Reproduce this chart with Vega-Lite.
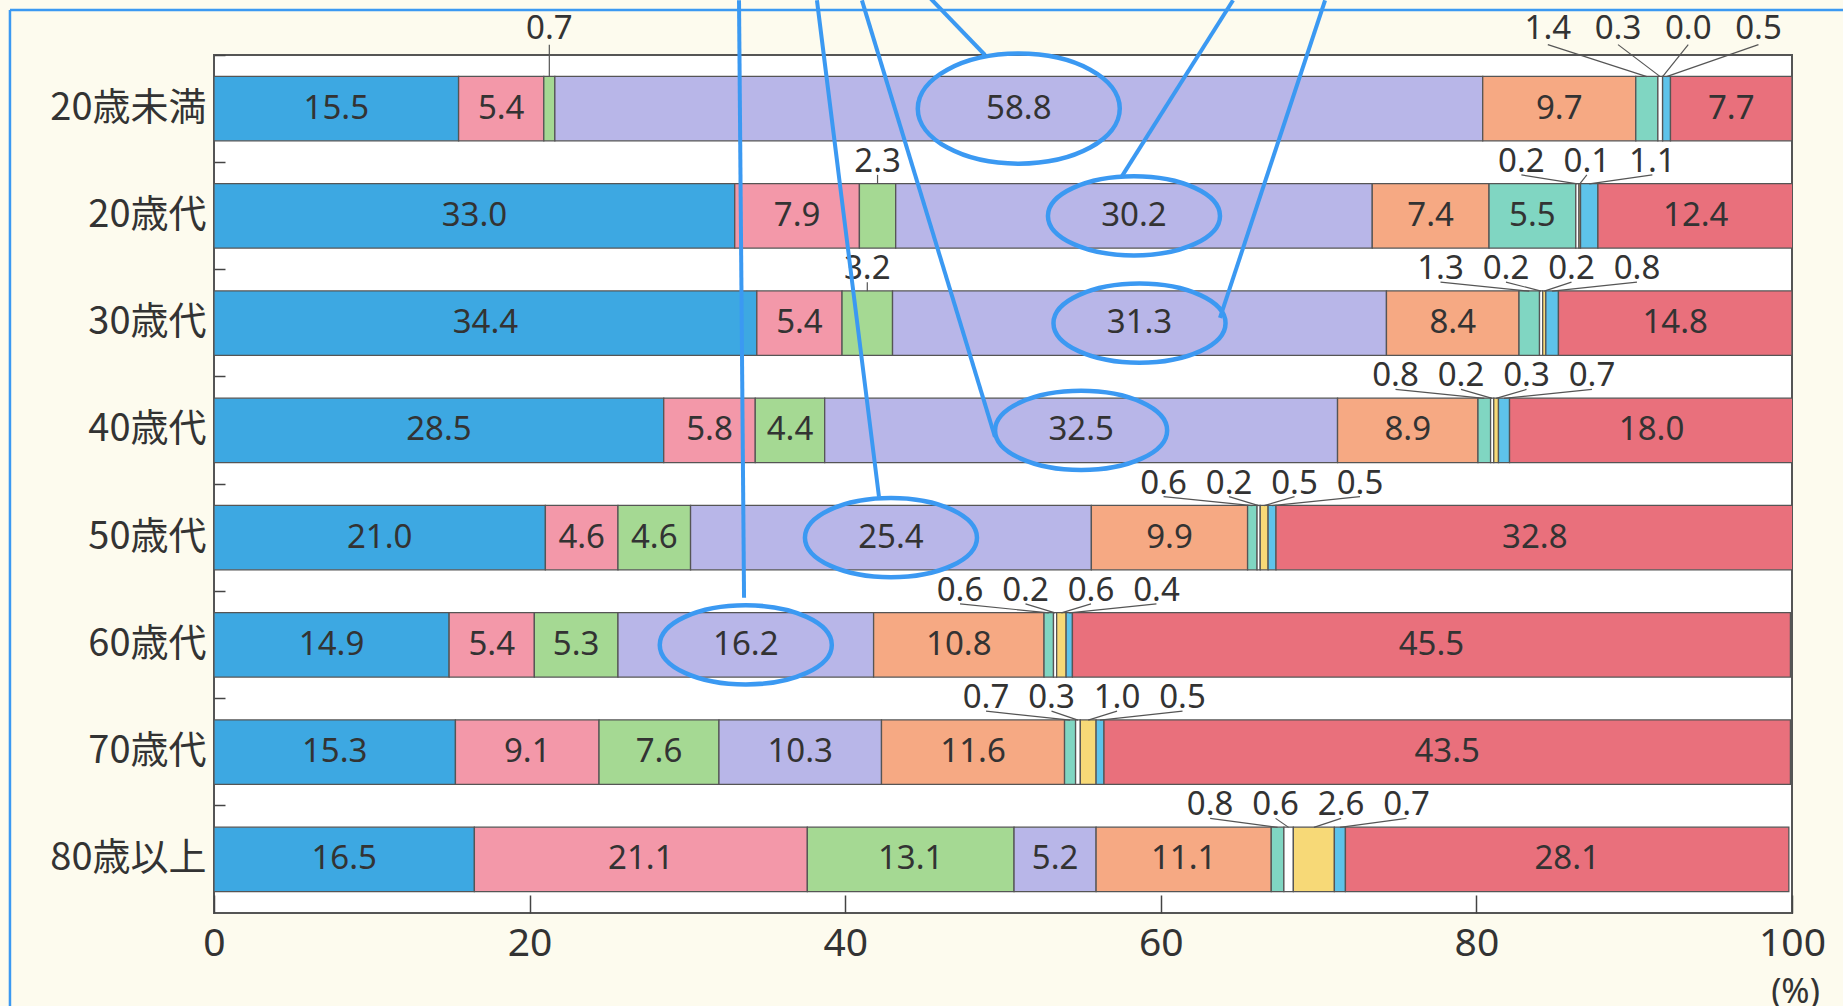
{
  "$schema": "https://vega.github.io/schema/vega-lite/v6.json",
  "width": 1578,
  "height": 858,
  "autosize": {"type": "none"},
  "padding": {"left": 214, "top": 55, "right": 51, "bottom": 93},
  "background": "#fdfbee",
  "config": {
    "view": {"fill": "#ffffff", "stroke": "#555555", "strokeWidth": 2},
    "axisX": {
      "domain": false, "grid": false, "ticks": true, "tickSize": -18, "tickColor": "#444444", "tickWidth": 1.5,
      "labelFlush": false,
      "labelFont": "Noto Sans", "labelFontSize": 39, "labelColor": "#333333", "labelPadding": 48, "labelBaseline": "middle",
      "titleFont": "Noto Sans", "titleFontSize": 34, "titleFontWeight": "normal", "titleColor": "#333333",
      "titleX": 1581, "titleY": 79, "titleAlign": "center", "titleBaseline": "middle", "titleAnchor": "start"
    },
    "axisY": {
      "domain": false, "grid": false, "ticks": true, "tickSize": -11, "tickColor": "#444444", "tickWidth": 1.5,
      "bandPosition": -0.333,
      "labelFont": "Noto Sans CJK JP", "labelFontSize": 38, "labelColor": "#333333", "labelPadding": 19,
      "title": null
    },
    "text": {"font": "Noto Sans", "fontSize": 33, "color": "#333333"}
  },
  "layer": [
    {
      "data": {"values": [
        {"age": "20歳未満", "k": 1, "v": 15.5}, {"age": "20歳未満", "k": 2, "v": 5.4}, {"age": "20歳未満", "k": 3, "v": 0.7}, {"age": "20歳未満", "k": 4, "v": 58.8}, {"age": "20歳未満", "k": 5, "v": 9.7}, {"age": "20歳未満", "k": 6, "v": 1.4}, {"age": "20歳未満", "k": 7, "v": 0.3}, {"age": "20歳未満", "k": 8, "v": 0.0}, {"age": "20歳未満", "k": 9, "v": 0.5}, {"age": "20歳未満", "k": 10, "v": 7.7},
        {"age": "20歳代", "k": 1, "v": 33.0}, {"age": "20歳代", "k": 2, "v": 7.9}, {"age": "20歳代", "k": 3, "v": 2.3}, {"age": "20歳代", "k": 4, "v": 30.2}, {"age": "20歳代", "k": 5, "v": 7.4}, {"age": "20歳代", "k": 6, "v": 5.5}, {"age": "20歳代", "k": 7, "v": 0.2}, {"age": "20歳代", "k": 8, "v": 0.1}, {"age": "20歳代", "k": 9, "v": 1.1}, {"age": "20歳代", "k": 10, "v": 12.4},
        {"age": "30歳代", "k": 1, "v": 34.4}, {"age": "30歳代", "k": 2, "v": 5.4}, {"age": "30歳代", "k": 3, "v": 3.2}, {"age": "30歳代", "k": 4, "v": 31.3}, {"age": "30歳代", "k": 5, "v": 8.4}, {"age": "30歳代", "k": 6, "v": 1.3}, {"age": "30歳代", "k": 7, "v": 0.2}, {"age": "30歳代", "k": 8, "v": 0.2}, {"age": "30歳代", "k": 9, "v": 0.8}, {"age": "30歳代", "k": 10, "v": 14.8},
        {"age": "40歳代", "k": 1, "v": 28.5}, {"age": "40歳代", "k": 2, "v": 5.8}, {"age": "40歳代", "k": 3, "v": 4.4}, {"age": "40歳代", "k": 4, "v": 32.5}, {"age": "40歳代", "k": 5, "v": 8.9}, {"age": "40歳代", "k": 6, "v": 0.8}, {"age": "40歳代", "k": 7, "v": 0.2}, {"age": "40歳代", "k": 8, "v": 0.3}, {"age": "40歳代", "k": 9, "v": 0.7}, {"age": "40歳代", "k": 10, "v": 18.0},
        {"age": "50歳代", "k": 1, "v": 21.0}, {"age": "50歳代", "k": 2, "v": 4.6}, {"age": "50歳代", "k": 3, "v": 4.6}, {"age": "50歳代", "k": 4, "v": 25.4}, {"age": "50歳代", "k": 5, "v": 9.9}, {"age": "50歳代", "k": 6, "v": 0.6}, {"age": "50歳代", "k": 7, "v": 0.2}, {"age": "50歳代", "k": 8, "v": 0.5}, {"age": "50歳代", "k": 9, "v": 0.5}, {"age": "50歳代", "k": 10, "v": 32.8},
        {"age": "60歳代", "k": 1, "v": 14.9}, {"age": "60歳代", "k": 2, "v": 5.4}, {"age": "60歳代", "k": 3, "v": 5.3}, {"age": "60歳代", "k": 4, "v": 16.2}, {"age": "60歳代", "k": 5, "v": 10.8}, {"age": "60歳代", "k": 6, "v": 0.6}, {"age": "60歳代", "k": 7, "v": 0.2}, {"age": "60歳代", "k": 8, "v": 0.6}, {"age": "60歳代", "k": 9, "v": 0.4}, {"age": "60歳代", "k": 10, "v": 45.5},
        {"age": "70歳代", "k": 1, "v": 15.3}, {"age": "70歳代", "k": 2, "v": 9.1}, {"age": "70歳代", "k": 3, "v": 7.6}, {"age": "70歳代", "k": 4, "v": 10.3}, {"age": "70歳代", "k": 5, "v": 11.6}, {"age": "70歳代", "k": 6, "v": 0.7}, {"age": "70歳代", "k": 7, "v": 0.3}, {"age": "70歳代", "k": 8, "v": 1.0}, {"age": "70歳代", "k": 9, "v": 0.5}, {"age": "70歳代", "k": 10, "v": 43.5},
        {"age": "80歳以上", "k": 1, "v": 16.5}, {"age": "80歳以上", "k": 2, "v": 21.1}, {"age": "80歳以上", "k": 3, "v": 13.1}, {"age": "80歳以上", "k": 4, "v": 5.2}, {"age": "80歳以上", "k": 5, "v": 11.1}, {"age": "80歳以上", "k": 6, "v": 0.8}, {"age": "80歳以上", "k": 7, "v": 0.6}, {"age": "80歳以上", "k": 8, "v": 2.6}, {"age": "80歳以上", "k": 9, "v": 0.7}, {"age": "80歳以上", "k": 10, "v": 28.1}
      ]},
      "transform": [
        {"stack": "v", "groupby": ["age"], "sort": [{"field": "k", "order": "ascending"}], "as": ["x0", "x1"]},
        {"calculate": "(datum.x0 + datum.x1) / 2", "as": "mid"}
      ],
      "encoding": {
        "y": {
          "field": "age", "type": "nominal",
          "sort": ["20歳未満", "20歳代", "30歳代", "40歳代", "50歳代", "60歳代", "70歳代", "80歳以上"],
          "scale": {"paddingInner": 0.4, "paddingOuter": 0.2},
          "title": null
        }
      },
      "layer": [
        {
          "mark": {"type": "bar", "stroke": "#555555", "strokeWidth": 1.3, "clip": true},
          "encoding": {
            "x": {"field": "x0", "type": "quantitative", "scale": {"domain": [0, 100], "nice": false, "zero": false},
              "axis": {"title": "(%)", "values": [0, 20, 40, 60, 80, 100]}},
            "x2": {"field": "x1"},
            "color": {
              "field": "k", "type": "ordinal", "legend": null,
              "scale": {"domain": [1, 2, 3, 4, 5, 6, 7, 8, 9, 10],
                "range": ["#3da8e2", "#f398a9", "#a5d993", "#b8b6e8", "#f6a983", "#80d6c2", "#ffffff", "#f7d977", "#5ec3ea", "#e9707c"]}
            }
          }
        },
        {
          "transform": [{"filter": "datum.v >= 3.5"}],
          "mark": {"type": "text", "baseline": "middle", "align": "center"},
          "encoding": {
            "x": {"field": "mid", "type": "quantitative", "axis": {"title": "(%)", "values": [0, 20, 40, 60, 80, 100]}},
            "text": {"field": "v", "type": "quantitative", "format": ".1f"}
          }
        },
        {
          "transform": [
            {"filter": "datum.v < 3.5 && (datum.k == 3 || (datum.k >= 6 && datum.k <= 9))"},
            {"calculate": "datum.k == 3 ? 'g' : 'o'", "as": "grp"},
            {"joinaggregate": [{"op": "min", "field": "x0", "as": "g0"}, {"op": "max", "field": "x1", "as": "g1"}, {"op": "count", "as": "n"}], "groupby": ["age", "grp"]},
            {"window": [{"op": "row_number", "as": "r"}], "groupby": ["age", "grp"], "sort": [{"field": "k", "order": "ascending"}]},
            {"calculate": "(datum.g0 + datum.g1) / 2 + (datum.r - (datum.n + 1) / 2) * (datum.age == '20歳未満' ? 4.45 : 4.15)", "as": "lx"}
          ],
          "layer": [
            {
              "transform": [{"filter": "datum.age != '20歳未満'"}],
              "layer": [
                {
                  "mark": {"type": "text", "baseline": "middle", "align": "center", "yOffset": -54},
                  "encoding": {
                    "x": {"field": "lx", "type": "quantitative", "axis": {"title": "(%)", "values": [0, 20, 40, 60, 80, 100]}},
                    "text": {"field": "v", "type": "quantitative", "format": ".1f"}
                  }
                },
                {
                  "mark": {"type": "rule", "stroke": "#555555", "strokeWidth": 1.2, "yOffset": -41, "y2Offset": -32},
                  "encoding": {
                    "x": {"field": "lx", "type": "quantitative", "axis": {"title": "(%)", "values": [0, 20, 40, 60, 80, 100]}},
                    "x2": {"field": "mid"},
                    "y2": {"field": "age"}
                  }
                }
              ]
            },
            {
              "transform": [{"filter": "datum.age == '20歳未満'"}],
              "layer": [
                {
                  "mark": {"type": "text", "baseline": "middle", "align": "center", "yOffset": -80},
                  "encoding": {
                    "x": {"field": "lx", "type": "quantitative", "axis": {"title": "(%)", "values": [0, 20, 40, 60, 80, 100]}},
                    "text": {"field": "v", "type": "quantitative", "format": ".1f"}
                  }
                },
                {
                  "mark": {"type": "rule", "stroke": "#555555", "strokeWidth": 1.2, "yOffset": -64, "y2Offset": -32},
                  "encoding": {
                    "x": {"field": "lx", "type": "quantitative", "axis": {"title": "(%)", "values": [0, 20, 40, 60, 80, 100]}},
                    "x2": {"field": "mid"},
                    "y2": {"field": "age"}
                  }
                }
              ]
            }
          ]
        },
        {
          "transform": [{"filter": "datum.k == 4 && indexof(['20歳代', '30歳代', '40歳代', '50歳代', '60歳代'], datum.age) >= 0"}],
          "mark": {"type": "point", "shape": "M -1 0 A 1 0.46 0 1 1 1 0 A 1 0.46 0 1 1 -1 0 Z", "size": 29600, "filled": false, "stroke": "#3b99f2", "strokeWidth": 4.5, "opacity": 1},
          "encoding": {"x": {"field": "mid", "type": "quantitative", "axis": {"title": "(%)", "values": [0, 20, 40, 60, 80, 100]}}}
        },
        {
          "transform": [{"filter": "datum.k == 4 && datum.age == '20歳未満'"}],
          "mark": {"type": "point", "shape": "M -1 0 A 1 0.545 0 1 1 1 0 A 1 0.545 0 1 1 -1 0 Z", "size": 40800, "filled": false, "stroke": "#3b99f2", "strokeWidth": 4.5, "opacity": 1},
          "encoding": {"x": {"field": "mid", "type": "quantitative", "axis": {"title": "(%)", "values": [0, 20, 40, 60, 80, 100]}}}
        }
      ]
    },
    {
      "data": {"values": [
        {"xa": 48.86, "xb": 44.93, "ya": 8.0, "yb": 8.6, "w": "callout"},
        {"xa": 57.54, "xb": 64.58, "ya": 6.87, "yb": 8.51, "w": "callout"},
        {"xa": 63.75, "xb": 70.41, "ya": 5.55, "yb": 8.51, "w": "callout"},
        {"xa": 49.49, "xb": 41.06, "ya": 4.44, "yb": 8.51, "w": "callout"},
        {"xa": 42.14, "xb": 38.21, "ya": 3.88, "yb": 8.51, "w": "callout"},
        {"xa": 33.59, "xb": 33.27, "ya": 2.94, "yb": 8.51, "w": "callout"},
        {"xa": -12.93, "xb": -12.93, "ya": -1.0, "yb": 8.42, "w": "frame"},
        {"xa": -12.93, "xb": 104.0, "ya": 8.42, "yb": 8.42, "w": "frame"}
      ]},
      "mark": {"type": "rule", "stroke": "#3b99f2", "clip": false},
      "encoding": {
        "x": {"field": "xa", "type": "quantitative", "scale": {"domain": [0, 100], "nice": false, "zero": false},
          "axis": {"title": "(%)", "values": [0, 20, 40, 60, 80, 100]}},
        "x2": {"field": "xb"},
        "y": {"field": "ya", "type": "quantitative", "scale": {"domain": [0, 8], "nice": false, "zero": false}, "axis": null},
        "y2": {"field": "yb"},
        "strokeWidth": {"field": "w", "type": "nominal", "scale": {"domain": ["callout", "frame"], "range": [4, 2.5]}, "legend": null}
      }
    }
  ],
  "resolve": {"scale": {"y": "independent"}}
}
